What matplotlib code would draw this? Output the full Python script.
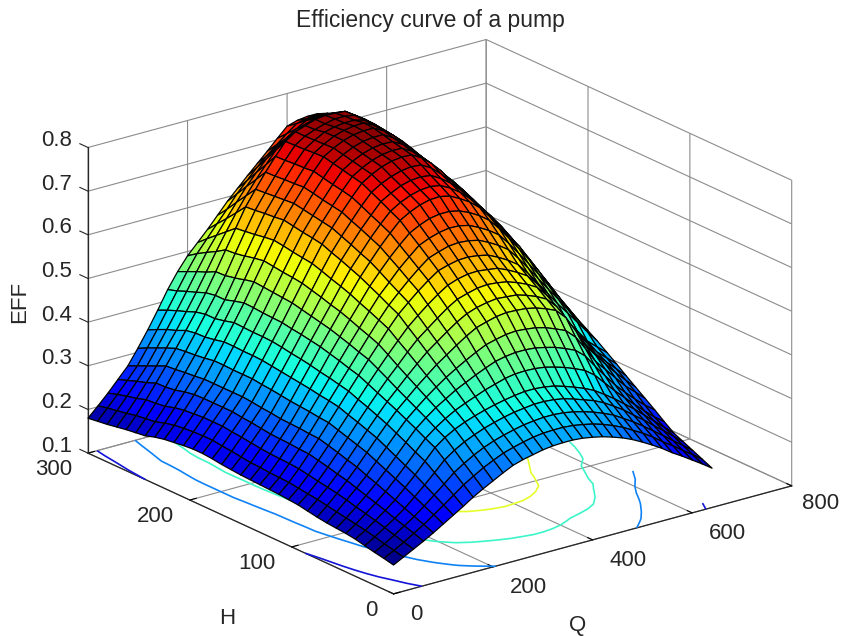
# pump efficiency surface with floor contours
import numpy as np
import matplotlib
matplotlib.use('Agg')
import matplotlib.pyplot as plt
from mpl_toolkits.mplot3d import proj3d

plt.rcParams['font.family'] = ['Liberation Sans', 'DejaVu Sans']
plt.rcParams['text.color'] = '#262626'

# flow values, head values
Q_vals = [0, 20, 40, 60, 80, 100, 120, 140, 160, 180, 200, 220, 240, 260, 280, 300, 320,
          340, 360, 380, 400, 420, 440, 460, 480, 500, 520, 540, 560, 580, 600, 620, 640]
H_vals = [0, 9.375, 18.75, 28.125, 37.5, 46.875, 56.25, 65.625, 75, 84.375, 93.75, 103.125,
          112.5, 121.875, 131.25, 140.625, 150, 159.375, 168.75, 178.125, 187.5, 196.875,
          206.25, 215.625, 225, 234.375, 243.75, 253.125, 262.5, 271.875, 281.25, 290.625, 300]

# efficiency x 1000, one row per H value
eff_table = [
    [166,178,190,202,215,229,243,257,272,285,297,309,320,327,332,337,340,341,341,339,335,330,323,315,305,293,280,266,250,236,221,206,190],
    [171,183,196,210,224,240,256,273,290,304,317,328,338,345,351,356,359,360,360,358,354,349,342,333,323,310,297,282,265,250,233,217,200],
    [175,188,202,217,232,250,269,288,308,323,336,347,356,363,369,374,377,379,379,377,373,367,360,351,341,327,313,297,280,263,245,228,210],
    [180,194,209,224,241,261,282,304,327,343,356,366,375,382,388,393,396,399,399,397,393,386,378,370,359,345,330,312,295,276,258,239,220],
    [185,199,215,232,250,272,295,320,345,362,375,385,393,400,406,411,415,418,418,416,412,405,397,388,377,362,346,328,310,290,270,250,230],
    [188,203,221,239,259,282,306,331,356,374,389,402,412,421,430,437,444,448,449,448,445,439,432,423,413,396,372,348,326,304,283,263,246],
    [190,207,226,246,268,292,317,343,368,387,404,418,432,443,454,464,473,478,481,481,479,474,468,459,449,430,400,372,345,322,300,280,263],
    [192,211,232,253,276,302,328,354,379,399,418,435,451,465,478,490,501,507,512,514,512,509,503,494,484,463,430,395,370,345,320,300,279],
    [195,215,237,260,285,312,339,365,390,411,432,451,470,486,502,517,530,537,543,546,545,543,538,530,520,497,460,420,392,365,340,317,295],
    [199,219,241,265,291,319,347,374,400,423,446,468,489,506,523,539,552,560,565,568,566,564,557,548,536,513,475,435,405,378,355,333,311],
    [203,222,245,271,298,326,355,383,410,436,460,485,508,526,544,561,575,582,588,590,588,584,576,566,553,528,493,455,422,395,368,348,328],
    [205,225,249,276,304,333,362,391,420,448,475,501,526,546,565,582,597,605,610,611,608,605,595,583,569,544,510,472,440,412,383,363,344],
    [207,228,253,281,310,340,370,400,430,460,489,518,545,566,586,604,620,627,632,633,630,625,614,601,585,559,530,500,470,443,415,387,360],
    [208,229,255,282,311,342,374,405,436,467,498,528,556,579,601,621,639,647,654,656,654,649,638,625,609,583,554,524,494,465,434,404,374],
    [209,230,256,284,313,345,377,410,443,475,506,538,568,592,617,638,658,668,675,679,678,673,662,649,633,607,578,548,518,486,454,421,388],
    [210,232,257,285,314,347,381,414,449,482,515,547,579,606,632,655,676,688,697,701,701,696,686,673,656,631,602,572,541,508,473,437,401],
    [211,233,259,286,315,349,384,419,455,489,523,557,590,619,647,672,695,708,718,724,725,720,708,694,675,648,619,590,561,526,490,453,415],
    [213,236,262,289,318,352,387,423,459,494,529,565,599,628,657,683,706,720,730,736,738,734,722,706,685,656,629,601,572,540,507,471,434],
    [215,239,265,292,320,355,390,426,463,499,536,572,608,638,667,693,718,731,742,748,750,747,734,717,695,665,638,612,585,554,522,488,453],
    [218,241,267,294,323,357,393,430,466,504,542,580,616,647,676,704,729,743,753,760,763,761,748,728,705,673,648,623,596,568,539,506,471],
    [220,244,270,297,325,360,396,433,470,509,548,587,625,656,686,714,740,754,765,772,775,774,761,742,718,685,660,636,610,584,555,523,490],
    [220,244,270,297,325,360,397,434,471,511,551,590,629,660,690,719,745,759,770,777,780,779,766,747,723,689,666,642,618,593,565,535,503],
    [218,243,270,297,325,360,397,434,472,513,553,593,632,664,694,723,750,764,775,782,785,784,772,753,730,697,674,651,628,603,576,546,515],
    [215,241,268,297,325,361,398,435,474,515,556,597,636,668,699,728,755,769,780,787,790,790,777,760,738,706,683,661,638,614,587,558,528],
    [212,238,266,296,325,361,398,436,475,517,559,600,640,672,703,733,760,774,785,792,795,795,783,766,745,714,692,670,648,624,598,570,540],
    [207,233,262,292,322,357,393,430,469,512,555,597,637,670,701,731,759,773,785,792,796,797,785,769,749,718,696,675,653,629,603,575,545],
    [200,226,255,286,320,354,389,425,462,506,550,593,635,668,700,730,757,772,784,790,793,793,787,772,752,722,700,679,658,634,608,580,550],
    [197,223,252,283,317,352,388,425,462,501,546,590,632,666,698,728,756,771,780,787,792,792,788,773,754,725,704,684,663,639,613,585,555],
    [194,220,250,282,315,349,384,420,458,500,544,587,630,664,697,727,755,771,779,787,790,789,787,772,754,726,707,688,668,644,618,590,560],
    [190,215,243,273,305,340,374,411,449,489,530,569,606,639,670,698,725,743,754,766,774,775,774,763,748,725,708,690,670,648,624,598,570],
    [186,211,238,266,295,330,366,403,441,480,518,551,583,614,644,670,695,715,730,745,758,761,761,754,742,724,709,691,672,651,629,605,580],
    [183,207,232,258,285,320,356,394,432,470,505,533,561,588,617,641,665,686,705,724,741,746,748,745,736,723,709,692,673,654,634,612,590],
    [180,202,225,250,275,309,345,384,425,460,490,514,538,564,590,613,636,658,680,703,725,732,735,735,730,722,710,694,675,658,640,620,600],
]

contour_levels = [0.2, 0.3, 0.4, 0.55]
contour_colors = ['#1414d8', '#0f82f5', '#3cf5c8', '#e6ff28']

Q_ticks = [0, 200, 400, 600, 800]
H_ticks = [0, 100, 200, 300]
EFF_ticks = [0.1, 0.2, 0.3, 0.4, 0.5, 0.6, 0.7, 0.8]

Q, H = np.meshgrid(Q_vals, H_vals)
EFF = np.array(eff_table) / 1000.0

fig = plt.figure(figsize=(8.42, 6.36), dpi=100)
# square axes bigger than the figure so nothing gets clipped
ax = fig.add_axes([-0.0021, -0.1923, 860 / 842, 860 / 636], projection='3d', proj_type='ortho')
ax.computed_zorder = False
ax.view_init(elev=20.7, azim=-127.5)
ax.set_box_aspect((1, 1, 0.651), zoom=0.882)

ax.contour(Q, H, EFF, levels=contour_levels, colors=contour_colors, zdir='z', offset=0.1,
           linewidths=1.2, zorder=1)
ax.plot_surface(Q, H, EFF, rstride=1, cstride=1, cmap='jet', vmin=0.166, vmax=0.8,
                edgecolor='black', linewidth=0.9, shade=False, antialiased=True, zorder=2)

ax.set_xlim(0, 800)
ax.set_ylim(0, 300)
ax.set_zlim(0.1, 0.8)
ax.set_xticks(Q_ticks)
ax.set_yticks(H_ticks)
ax.set_zticks(EFF_ticks)
ax.set_xticklabels([])
ax.set_yticklabels([])
ax.set_zticklabels([])

for axis in (ax.xaxis, ax.yaxis, ax.zaxis):
    axis.set_pane_color((1, 1, 1, 0))
    axis.pane.set_edgecolor((1, 1, 1, 0))
    axis.line.set_color('#262626')
    axis.line.set_linewidth(0.9)
    axis._axinfo['grid'].update(color='#8c8c8c', linewidth=0.8, linestyle='-')
    axis._axinfo['tick'].update(inward_factor=0.0, outward_factor=0.2, linewidth={True: 0.8, False: 0.8})
ax.zaxis._axinfo['tick'].update(outward_factor=0.0)

# z ticks stick out along H like the original
for z in EFF_ticks:
    ax.plot3D([0, 0], [300, 308], [z, z], color='#262626', linewidth=0.8, zorder=0)
ax.set_ylim(0, 300)


def tick_text(x, y, z, label, dx, dy, ha):
    # label next to a 3D point, offset in pixels
    px, py, _ = proj3d.proj_transform(x, y, z, ax.get_proj())
    ax.annotate(label, xy=(px, py), xytext=(dx, dy), textcoords='offset pixels', ha=ha, va='center',
                fontsize=16, color='#262626', annotation_clip=False)


for q in Q_ticks:
    if q == 800:
        tick_text(q, 0, 0.1, str(q), 10, -18, 'left')
    else:
        tick_text(q, 0, 0.1, str(q), 17, -21, 'left')
for h in H_ticks:
    tick_text(0, h, 0.1, str(h), -16, -16.5, 'right')
for z in EFF_ticks:
    tick_text(0, 300, z, '%.1f' % z, -16, 7, 'right')

fig.text(430 / 842, 1 - 20 / 636, 'Efficiency curve of a pump', ha='center', va='center', fontsize=16.5)
fig.text(578 / 842, 1 - 625 / 636, 'Q', ha='center', va='center', fontsize=16)
fig.text(227 / 842, 1 - 618 / 636, 'H', ha='center', va='center', fontsize=16)
fig.text(20 / 842, 1 - 302 / 636, 'EFF', ha='center', va='center', rotation=90, fontsize=16)

fig.savefig('out.png', dpi=100)
